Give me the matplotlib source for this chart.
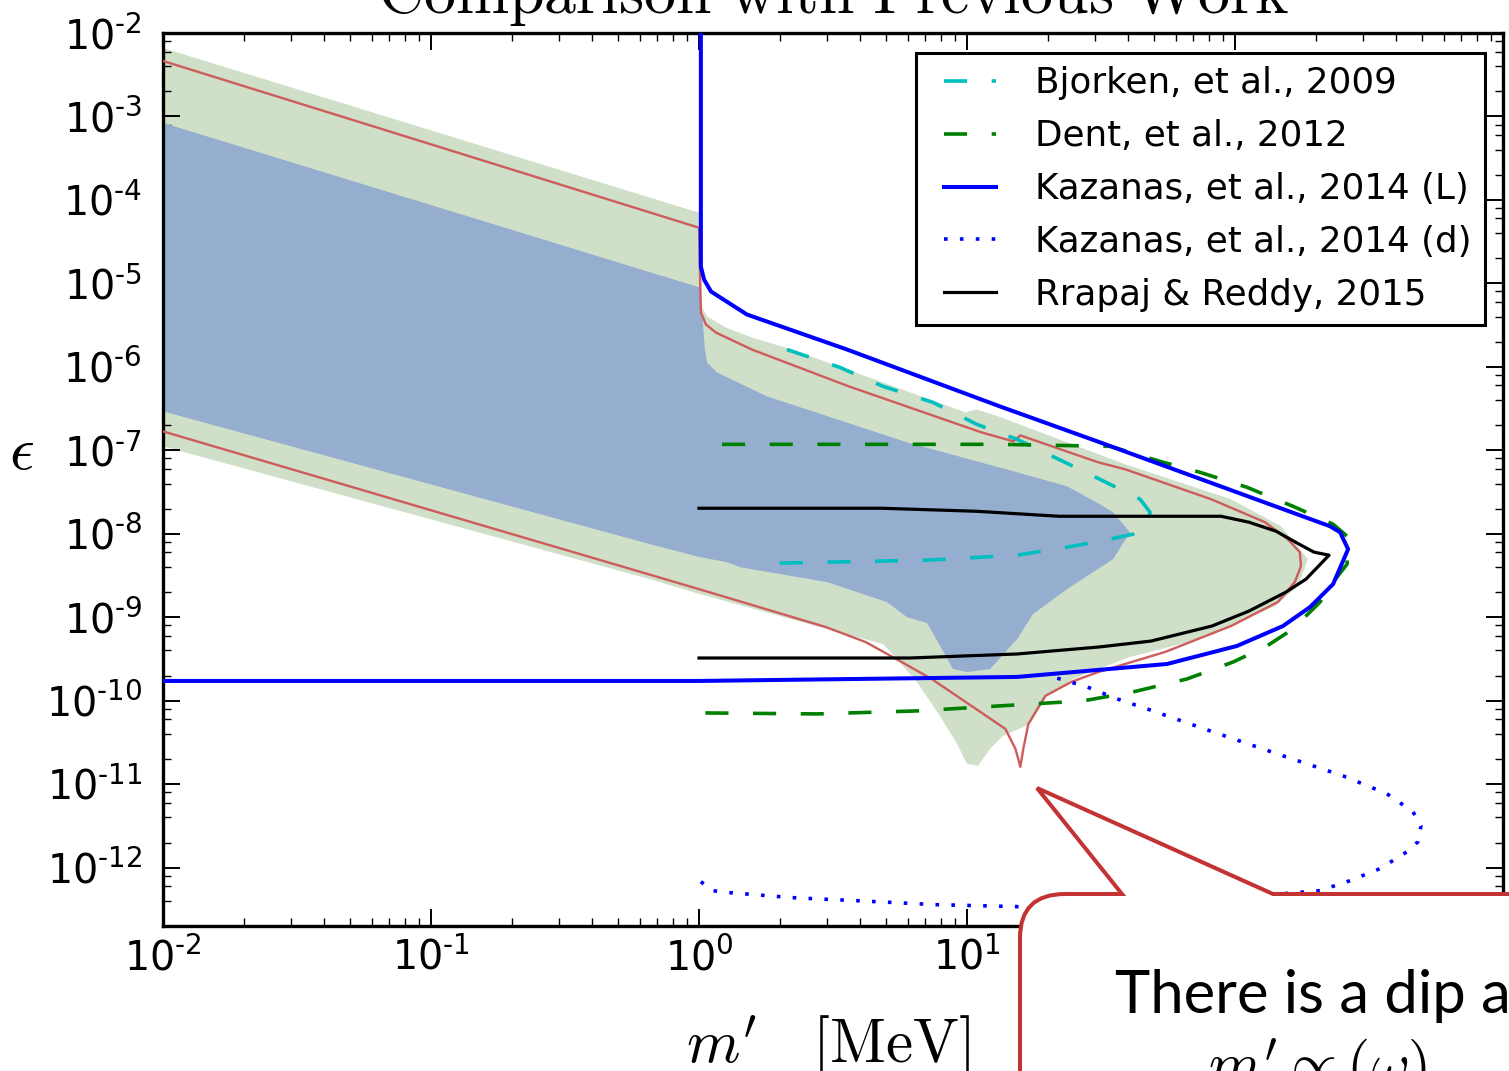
import numpy as np
import matplotlib
matplotlib.use("Agg")
import matplotlib.pyplot as plt
from matplotlib.path import Path
from matplotlib.patches import PathPatch
from matplotlib.lines import Line2D
from matplotlib.legend_handler import HandlerLine2D
from matplotlib.ticker import LogLocator, FuncFormatter, NullFormatter

# ---------------- data (log10 m' [MeV], log10 epsilon) ----------------
green_log_m = [-2, 0, 0.011, 0.030, 0.100, 0.197, 0.346, 0.994, 1.035, 1.117, 1.590,
               1.985, 2.171, 2.272, 2.235, 2.149, 1.869, 1.608, 1.396, 1.299, 1.235,
               1.134, 1.086, 1.041, 1.0, 0.963, 0.899, 0.813, 0.739, 0.687, 0.478,
               0.004, -0.183, -2]
green_log_eps = [-2.18, -4.153, -5.278, -5.397, -5.529, -5.648, -5.792, -6.545, -6.510,
                 -6.593, -7.167, -7.586, -7.909, -8.304, -8.627, -8.866, -9.261, -9.476,
                 -9.739, -9.943, -10.278, -10.421, -10.577, -10.780, -10.756, -10.517,
                 -10.182, -9.775, -9.500, -9.321, -9.141, -8.723, -8.543, -6.952]

blue_log_m = [-2, 0.004, 0.022, 0.030, 0.067, 0.254, 0.776, 1.187, 1.373, 1.496, 1.545,
              1.608, 1.545, 1.373, 1.246, 1.187, 1.086, 1.0, 0.948, 0.851, 0.776, 0.701,
              0.478, 0.153, 0.104, 0.004, -0.183, -2]
blue_log_eps = [-3.077, -5.05, -5.792, -5.947, -6.067, -6.354, -6.904, -7.263, -7.431,
                -7.646, -7.742, -7.981, -8.304, -8.663, -8.962, -9.261, -9.620, -9.656,
                -9.620, -9.069, -8.998, -8.818, -8.579, -8.400, -8.340, -8.280, -8.124,
                -6.533]

red_log_m = [-2, 0, 0.007, 0.026, 0.063, 0.197, 0.559, 1.054, 1.173, 1.199, 1.490, 1.590,
             1.911, 2.112, 2.197, 2.242, 2.246, 2.223, 2.160, 1.985, 1.739, 1.490, 1.389,
             1.292, 1.229, 1.210, 1.199, 1.181, 1.143, 0.868, 0.756, 0.622, 0.473, 0, -2]
red_log_eps = [-2.335, -4.333, -5.349, -5.493, -5.589, -5.792, -6.234, -6.785, -6.892,
               -6.821, -7.144, -7.227, -7.586, -7.861, -8.065, -8.220, -8.388, -8.579,
               -8.818, -9.105, -9.416, -9.656, -9.775, -9.943, -10.278, -10.577, -10.792,
               -10.577, -10.337, -9.739, -9.536, -9.297, -9.117, -8.663, -6.773]

bjorken_log_m = [0.328, 0.526, 0.687, 0.873, 1.037, 1.187, 1.396, 1.496, 1.646, 1.683,
                 1.675, 1.619, 1.496, 1.373, 1.187, 0.851, 0.478, 0.291]
bjorken_log_eps = [-5.792, -6.007, -6.234, -6.426, -6.689, -6.868, -7.191, -7.347, -7.586,
                   -7.742, -7.873, -8.005, -8.089, -8.160, -8.256, -8.316, -8.340, -8.352]

dent_log_m = [0.086, 1.123, 1.534, 1.720, 1.869, 2.045, 2.216, 2.366, 2.418, 2.422, 2.418,
              2.366, 2.317, 2.216, 2.119, 1.993, 1.821, 1.619, 1.433, 1.246, 0.813, 0.440,
              0.011]
dent_log_eps = [-6.928, -6.928, -6.952, -7.132, -7.263, -7.443, -7.670, -7.885, -8.029,
                -8.184, -8.364, -8.579, -8.818, -9.141, -9.344, -9.536, -9.739, -9.895,
                -10.002, -10.038, -10.122, -10.158, -10.146]

kazL_log_m = [-2, 0, 1.187, 1.746, 2.007, 2.179, 2.280, 2.366, 2.422, 2.392, 2.354, 1.496,
              1.123, 0.552, 0.179, 0.045, 0.019, 0.007, 0.007]
kazL_log_eps = [-9.763, -9.763, -9.715, -9.560, -9.344, -9.105, -8.878, -8.603, -8.184,
                -7.981, -7.909, -6.904, -6.474, -5.792, -5.373, -5.098, -4.955, -4.799,
                -1.9]

kazd_log_m = [0.007, 0.048, 0.112, 0.346, 0.585, 0.883, 1.187, 1.49, 1.87, 2.317, 2.429,
              2.541, 2.642, 2.683, 2.694, 2.664, 2.567, 2.403, 2.179, 1.896, 1.672, 1.560,
              1.448, 1.321]
kazd_log_eps = [-12.167, -12.275, -12.299, -12.359, -12.395, -12.443, -12.467, -12.455,
                -12.395, -12.275, -12.156, -12.012, -11.809, -11.689, -11.498, -11.330,
                -11.115, -10.900, -10.660, -10.349, -10.098, -9.978, -9.835, -9.715]

rrapaj_log_m = [0, 0.683, 1.034, 1.343, 1.948, 2.052, 2.153, 2.239, 2.295, 2.351, 2.265,
                2.190, 2.052, 1.914, 1.687, 1.493, 1.187, 0.787, 0]
rrapaj_log_eps = [-7.694, -7.694, -7.730, -7.790, -7.790, -7.861, -7.969, -8.124, -8.220,
                  -8.256, -8.543, -8.699, -8.926, -9.105, -9.285, -9.356, -9.440, -9.488,
                  -9.488]

labels = ["Bjorken, et al., 2009", "Dent, et al., 2012", "Kazanas, et al., 2014 (L)",
          "Kazanas, et al., 2014 (d)", "Rrapaj & Reddy, 2015"]

# ---------------- figure ----------------
W, H = 1509, 1071
fig = plt.figure(figsize=(W / 100, H / 100), dpi=100)
ax = fig.add_axes([163 / W, 1 - 926 / H, (1503 - 163) / W, (926 - 33) / H])


def xy(lm, le):
    return 10 ** np.asarray(lm, float), 10 ** np.asarray(le, float)


ax.fill(*xy(green_log_m, green_log_eps), color='#cfdfc8', lw=0, zorder=1)
ax.fill(*xy(blue_log_m, blue_log_eps), color='#95aed0', lw=0, zorder=2)
ax.plot(*xy(red_log_m, red_log_eps), color='indianred', lw=1.7, zorder=3)

ax.plot(*xy(bjorken_log_m, bjorken_log_eps), color='c', lw=2.6,
        ls=(0, (6.4, 6.8)), label=labels[0], zorder=4)
ax.plot(*xy(dent_log_m, dent_log_eps), color='g', lw=2.6,
        ls=(0, (6.4, 6.8)), label=labels[1], zorder=4)
ax.plot(*xy(kazL_log_m, kazL_log_eps), color='b', lw=2.9, label=labels[2], zorder=5)
ax.plot(*xy(kazd_log_m, kazd_log_eps), color='b', lw=2.6,
        ls=(0, (1, 3.4)), label=labels[3], zorder=5)
ax.plot(*xy(rrapaj_log_m, rrapaj_log_eps), color='k', lw=2.3, label=labels[4], zorder=6)

ax.set_xscale('log')
ax.set_yscale('log')
ax.set_xlim(1e-2, 1e3)
ax.set_ylim(2e-13, 1e-2)


def fmt(v, pos):
    e = int(round(np.log10(v)))
    s = ("\u2010%d" % -e) if e < 0 else "%d" % e
    return r"$\mathregular{10^{%s}}$" % s


ax.xaxis.set_major_locator(LogLocator(base=10, numticks=30))
ax.xaxis.set_minor_locator(LogLocator(base=10, subs=np.arange(2, 10), numticks=30))
ax.yaxis.set_major_locator(LogLocator(base=10, numticks=30))
ax.yaxis.set_minor_locator(LogLocator(base=10, subs=(2, 4, 6, 8), numticks=30))
ax.xaxis.set_major_formatter(FuncFormatter(fmt))
ax.yaxis.set_major_formatter(FuncFormatter(fmt))
ax.xaxis.set_minor_formatter(NullFormatter())
ax.yaxis.set_minor_formatter(NullFormatter())

ax.tick_params(which='both', direction='in', top=True, right=True, colors='k')
ax.tick_params(which='major', length=12, width=1.4, labelsize=28.5)
ax.tick_params(which='minor', length=6, width=1.0)
ax.tick_params(axis='x', which='major', pad=9)
ax.tick_params(axis='y', which='major', pad=15)
for sp in ax.spines.values():
    sp.set_linewidth(2.4)

ax.set_xlabel(r"$m'\quad[\mathrm{MeV}]$", fontsize=44, math_fontfamily='cm', va='baseline')
ax.xaxis.set_label_coords((828 - 163) / 1340, (926 - 1063) / 893)
ax.set_ylabel(r"$\epsilon$", fontsize=44, math_fontfamily='cm', rotation=0,
              ha='center', va='center')
ax.yaxis.set_label_coords((22 - 163) / 1340, 1 - (452 - 33) / 893)

fig.text(833 / W, 1 - 13 / H, r"$\mathrm{Comparison\ with\ Previous\ Work}$",
         fontsize=46, math_fontfamily='cm', ha='center', va='baseline')


class ShiftedLineHandler(HandlerLine2D):
    """Legend line drawn in the right part of the handle box (extra left padding)."""
    def __init__(self, shift, **kw):
        super().__init__(**kw)
        self.shift = shift

    def create_artists(self, legend, orig_handle, xdescent, ydescent, width, height,
                       fontsize, trans):
        return super().create_artists(legend, orig_handle, xdescent - self.shift,
                                      ydescent, width - self.shift, height, fontsize,
                                      trans)


leg_fs = 25.7
leg = ax.legend(loc='upper right', bbox_to_anchor=(1485 / W, 1 - 53 / H),
                bbox_transform=fig.transFigure, fontsize=leg_fs, handlelength=1.88,
                handletextpad=1.1, borderpad=0.37, labelspacing=0.53,
                fancybox=False, framealpha=1, edgecolor='k', borderaxespad=0,
                handler_map={Line2D: ShiftedLineHandler(shift=15 * 0.72)})
leg.get_frame().set_linewidth(2.2)

# ---------------- slide callout overlay ----------------
def F(x, y):
    return (x / W, 1 - y / H)

verts = [F(1020, 1100), F(1020, 938), F(1020, 894), F(1065, 894), F(1122, 894),
         F(1037, 788), F(1273, 894), F(1540, 894), F(1540, 1100), F(1020, 1100)]
codes = [Path.MOVETO, Path.LINETO, Path.CURVE3, Path.CURVE3, Path.LINETO,
         Path.LINETO, Path.LINETO, Path.LINETO, Path.LINETO, Path.CLOSEPOLY]
callout = PathPatch(Path(verts, codes), transform=fig.transFigure, facecolor='white',
                    edgecolor='#c43333', lw=2.9, joinstyle='miter', zorder=10)
fig.add_artist(callout)
fig.text(1115 / W, 1 - 1013 / H, "There is a dip at", fontsize=43, family='Lato',
         ha='left', va='baseline', zorder=11)
fig.text(1208 / W, 1 - 1085 / H, r"$m' \propto (\omega)$", fontsize=43,
         math_fontfamily='cm', ha='left', va='baseline', zorder=11)

fig.savefig("out.png", dpi=100)
